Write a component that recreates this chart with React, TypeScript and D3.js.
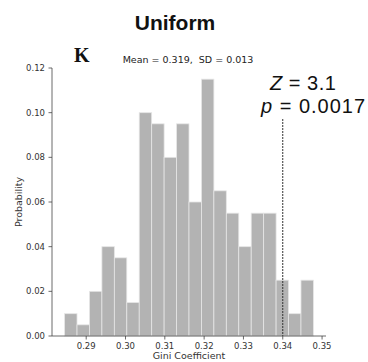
import React from "react";
import * as d3 from "d3";

const binStart = 0.2845;
const binWidth = 0.003165;
const probabilities = [
  0.01, 0.005, 0.02, 0.04, 0.035, 0.015, 0.1, 0.095, 0.08, 0.095,
  0.06, 0.115, 0.065, 0.055, 0.04, 0.055, 0.055, 0.025, 0.01, 0.025,
];
const xTicks = [0.29, 0.3, 0.31, 0.32, 0.33, 0.34, 0.35];
const yTicks = [0, 0.02, 0.04, 0.06, 0.08, 0.1, 0.12];
const observed = 0.34;
const title = "Uniform";
const panelLabel = "K";
const statsText = "Mean = 0.319,\u00a0 SD = 0.013";
const zText = "3.1";
const pText = "0.0017";

export default function App() {
  const W = 368;
  const H = 362;
  const x = d3.scaleLinear().domain([0.2813, 0.351]).range([52, 326]);
  const y = d3.scaleLinear().domain([0, 0.12]).range([336, 68]);
  const fmt = d3.format(".2f");
  const axisColor = "#444";
  const tickFont = "DejaVu Sans, sans-serif";

  return (
    <svg
      width={W}
      height={H}
      style={{ position: "absolute", left: 0, top: 0, background: "#fff" }}
    >
      {probabilities.map((p, i) => {
        const x0 = x(binStart + i * binWidth);
        const x1 = x(binStart + (i + 1) * binWidth);
        return (
          <rect
            key={i}
            x={x0}
            y={y(p)}
            width={x1 - x0}
            height={y(0) - y(p)}
            fill="#b3b3b3"
            stroke="#e6e6e6"
            strokeWidth={0.8}
          />
        );
      })}

      <line
        x1={x(observed)}
        x2={x(observed)}
        y1={119}
        y2={y(0)}
        stroke="#333"
        strokeWidth={1}
        strokeDasharray="2,1"
      />

      <line x1={52} x2={52} y1={y(0.12)} y2={y(0)} stroke={axisColor} strokeWidth={0.8} />
      <line x1={52} x2={326} y1={y(0)} y2={y(0)} stroke={axisColor} strokeWidth={0.8} />

      {yTicks.map((t) => (
        <g key={"y" + t}>
          <line x1={48.5} x2={52} y1={y(t)} y2={y(t)} stroke={axisColor} strokeWidth={0.8} />
          <text
            x={45}
            y={y(t)}
            dy="0.35em"
            textAnchor="end"
            fontFamily={tickFont}
            fontSize={8.5}
            fill="#333"
          >
            {fmt(t)}
          </text>
        </g>
      ))}

      {xTicks.map((t) => (
        <g key={"x" + t}>
          <line x1={x(t)} x2={x(t)} y1={y(0)} y2={y(0) + 3.5} stroke={axisColor} strokeWidth={0.8} />
          <text
            x={x(t)}
            y={349}
            textAnchor="middle"
            fontFamily={tickFont}
            fontSize={8.5}
            fill="#333"
          >
            {fmt(t)}
          </text>
        </g>
      ))}

      <text
        x={189}
        y={359}
        textAnchor="middle"
        fontFamily={tickFont}
        fontSize={9.5}
        fill="#333"
      >
        Gini Coefficient
      </text>
      <text
        transform={`translate(22,202) rotate(-90)`}
        textAnchor="middle"
        fontFamily={tickFont}
        fontSize={9.5}
        fill="#333"
      >
        Probability
      </text>

      <text
        x={175}
        y={30}
        textAnchor="middle"
        fontFamily="Liberation Sans, Arial, sans-serif"
        fontWeight="bold"
        fontSize={21}
        fill="#111"
      >
        {title}
      </text>
      <text
        x={74}
        y={62}
        fontFamily="Liberation Serif, Times New Roman, serif"
        fontWeight="bold"
        fontSize={20}
        fill="#111"
      >
        {panelLabel}
      </text>
      <text
        x={188}
        y={63}
        textAnchor="middle"
        fontFamily={tickFont}
        fontSize={9.5}
        fill="#222"
      >
        {statsText}
      </text>

      <text
        x={270}
        y={90}
        fontFamily="Liberation Sans, Arial, sans-serif"
        fontSize={20}
        letterSpacing={0.5}
        fill="#111"
      >
        <tspan fontStyle="italic">Z</tspan>
        {" = " + zText}
      </text>
      <text
        x={261}
        y={112.5}
        fontFamily="Liberation Sans, Arial, sans-serif"
        fontSize={20}
        letterSpacing={1}
        fill="#111"
      >
        <tspan fontStyle="italic">p</tspan>
        {" = " + pText}
      </text>
    </svg>
  );
}
